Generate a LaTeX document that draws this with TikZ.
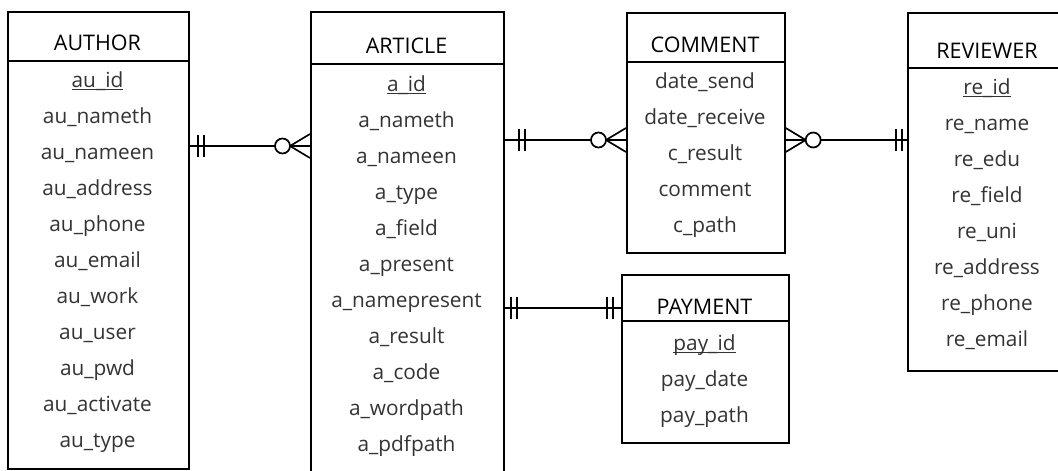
\documentclass[tikz,border=0pt]{standalone}
\usepackage{fontspec}
\setmainfont{Open Sans}
\newcommand\keyattr[1]{\setbox0\hbox{#1}\rlap{\rule[-2.8pt]{\wd0}{1.1pt}}\box0}
\begin{document}
\begin{tikzpicture}[x=1pt,y=-1pt,
  ent/.style={draw=black, line width=1.7pt, anchor=north west, inner sep=0pt, fill=none},
  hdr/.style={anchor=base, font=\fontsize{21.5}{25}\selectfont, text=black},
  att/.style={anchor=base, font=\fontsize{20.8}{25}\selectfont, text=black!80},
  rel/.style={line width=1.7pt},
  onebar/.pic={\draw[rel] (#1,-11) -- (#1,11) ({#1+6},-11) -- ({#1+6},11);},
  zmany/.pic={\draw[rel] (0,-12) -- (-20,0) -- (0,12);
              \draw[rel, fill=white] (-27.5,0) circle[radius=7.5];},
]
\useasboundingbox (0,0) rectangle (1058,471);
\clip (0,0) rectangle (1058,471);

% entities
\node[ent, minimum width=181pt, minimum height=457pt] (author) at (7,11) {};
\node[ent, minimum width=193pt, minimum height=464pt] (article) at (310,11) {};
\node[ent, minimum width=158pt, minimum height=240pt] (comment) at (626,12) {};
\node[ent, minimum width=159pt, minimum height=358pt] (reviewer) at (907,12) {};
\node[ent, minimum width=167pt, minimum height=168pt] (payment) at (621,274) {};

% header separators
\draw[rel] (author.west |- 0,61) -- (author.east |- 0,61);
\draw[rel] (article.west |- 0,64) -- (article.east |- 0,64);
\draw[rel] (comment.west |- 0,62) -- (comment.east |- 0,62);
\draw[rel] (reviewer.west |- 0,68) -- (reviewer.east |- 0,68);
\draw[rel] (payment.west |- 0,321) -- (payment.east |- 0,321);

% headers
\node[hdr] (authorH) at (97.5,50) {AUTHOR};
\node[hdr] (articleH) at (406.5,53) {ARTICLE};
\node[hdr] (commentH) at (705,52) {COMMENT};
\node[hdr] (reviewerH) at (987,58) {REVIEWER};
\node[hdr] (paymentH) at (704.5,314) {PAYMENT};

% attributes
\foreach [count=\i] \t in {\keyattr{au\_id},au\_nameth,au\_nameen,au\_address,au\_phone,au\_email,au\_work,au\_user,au\_pwd,au\_activate,au\_type}
  \node[att] (au\i) at (97.5,{87+36*(\i-1)}) {\t};
\foreach [count=\i] \t in {\keyattr{a\_id},a\_nameth,a\_nameen,a\_type,a\_field,a\_present,a\_namepresent,a\_result,a\_code,a\_wordpath,a\_pdfpath}
  \node[att] (ar\i) at (406.5,{91+36*(\i-1)}) {\t};
\foreach [count=\i] \t in {date\_send,date\_receive,c\_result,comment,c\_path}
  \node[att] (co\i) at (705,{88+36*(\i-1)}) {\t};
\foreach [count=\i] \t in {\keyattr{re\_id},re\_name,re\_edu,re\_field,re\_uni,re\_address,re\_phone,re\_email}
  \node[att] (re\i) at (987,{94+36*(\i-1)}) {\t};
\foreach [count=\i] \t in {\keyattr{pay\_id},pay\_date,pay\_path}
  \node[att] (pa\i) at (704.5,{350+36*(\i-1)}) {\t};

% relationships
\coordinate (c1a) at (author.east |- 0,146);
\coordinate (c1b) at (article.west |- 0,146);
\draw[rel] (c1a) -- (c1b);
\pic at (c1a) {onebar=8};
\pic at (c1b) {zmany};

\coordinate (c2a) at (article.east |- 0,140);
\coordinate (c2b) at (comment.west |- 0,140);
\draw[rel] (c2a) -- (c2b);
\pic at (c2a) {onebar=14};
\pic at (c2b) {zmany};

\coordinate (c3a) at (comment.east |- 0,140);
\coordinate (c3b) at (reviewer.west |- 0,140);
\draw[rel] (c3a) -- (c3b);
\pic[rotate=180] at (c3a) {zmany};
\pic[rotate=180] at (c3b) {onebar=5};

\coordinate (c4a) at (article.east |- 0,308);
\coordinate (c4b) at (payment.west |- 0,308);
\draw[rel] (c4a) -- (c4b);
\pic at (c4a) {onebar=6};
\pic[rotate=180] at (c4b) {onebar=8};
\end{tikzpicture}
\end{document}
